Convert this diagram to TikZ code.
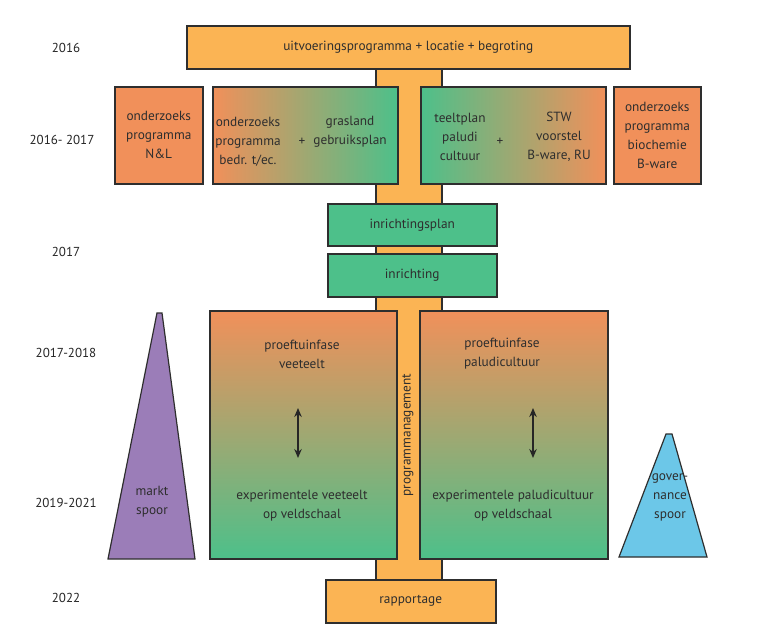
\documentclass[tikz,border=0pt]{standalone}
\usepackage{fontspec}
\setmainfont{PT Sans}
\usetikzlibrary{arrows.meta}
\definecolor{barorange}{HTML}{FBB454}
\definecolor{salmon}{HTML}{F1905A}
\definecolor{mint}{HTML}{4DC08A}
\definecolor{lilac}{HTML}{9B7DB8}
\definecolor{skyblue}{HTML}{6CC7E8}
\definecolor{ink}{HTML}{2E2E2E}
\tikzset{
  box/.style={draw=ink, line width=1.5pt, inner sep=0pt, anchor=north west},
  txt/.style={text=ink, align=center, font=\fontsize{13.3}{19}\selectfont, inner sep=0pt},
  yeartxt/.style={text=black!85, font=\fontsize{13}{15}\selectfont, inner sep=0pt},
  dbl/.style={{Stealth[length=9pt,width=7.5pt]}-{Stealth[length=9pt,width=7.5pt]}, line width=1.2pt, black!85}
}
\begin{document}
\begin{tikzpicture}[x=1pt,y=-1pt]
\useasboundingbox[fill=white] (0,0) rectangle (783,635);
% central bar
\node[box, fill=barorange, minimum width=66pt, minimum height=512pt] (bar) at (375,67) {};
% top
\node[box, fill=barorange, minimum width=443pt, minimum height=43pt] (top) at (186,25) {};
\node[txt] at (top.center) {uitvoeringsprogramma + locatie + begroting};
% row 2
\node[box, fill=salmon, minimum width=88pt, minimum height=97pt] (nl) at (114,86) {};
\node[txt] at (nl.center) {onderzoeks\\programma\\N\&L};
\node[box, left color=salmon, right color=mint, minimum width=185pt, minimum height=97pt] (gl) at (212,86) {};
\node[txt] at (248,142) {onderzoeks\\programma\\bedr. t/ec.};
\node[txt] at (302,142) {+};
\node[txt] at (350,132) {grasland\\gebruiksplan};
\node[box, left color=mint, right color=salmon, minimum width=185pt, minimum height=97pt] (tp) at (420,86) {};
\node[txt] at (460,137) {teeltplan\\paludi\\cultuur};
\node[txt] at (500,142) {+};
\node[txt] at (559,137) {STW\\voorstel\\B-ware, RU};
\node[box, fill=salmon, minimum width=87pt, minimum height=97pt] (bc) at (613,86) {};
\node[txt] at (bc.center) {onderzoeks\\programma\\biochemie\\B-ware};
% inrichting
\node[box, fill=mint, minimum width=169pt, minimum height=42pt] (ip) at (327,203) {};
\node[txt] at (ip.center) {inrichtingsplan};
\node[box, fill=mint, minimum width=169pt, minimum height=43pt] (ir) at (327,253) {};
\node[txt] at (ir.center) {inrichting};
% big boxes
\node[box, top color=salmon, bottom color=mint, minimum width=187pt, minimum height=248pt] (vl) at (209,310) {};
\node[txt] at (302,354) {proeftuinfase\\veeteelt};
\node[txt] at (302,506) {experimentele veeteelt\\op veldschaal};
\node[box, top color=salmon, bottom color=mint, minimum width=188pt, minimum height=248pt] (pc) at (419,310) {};
\node[txt] at (502,354) {proeftuinfase\\paludicultuur};
\node[txt] at (513,506) {experimentele paludicultuur\\op veldschaal};
\coordinate (a1) at (298,408);
\coordinate (a2) at (298,458);
\draw[dbl] (a1) -- (a2);
\coordinate (b1) at (533,408);
\coordinate (b2) at (533,458);
\draw[dbl] (b1) -- (b2);
\node[txt, rotate=90] at (408,435) {programmanagement};
% rapportage
\node[box, fill=barorange, minimum width=170pt, minimum height=43pt] (rp) at (325,579) {};
\node[txt] at (rp.center) {rapportage};
% triangles
\draw[draw=ink, line width=1.2pt, fill=lilac] (108,559) -- (157,313) -- (162,313) -- (195,559) -- cycle;
\node[txt] (markt) at (152,502) {markt\\spoor};
\draw[draw=ink, line width=1.2pt, fill=skyblue] (619,557) -- (666,434) -- (672,434) -- (707,557) -- cycle;
\node[txt] (gov) at (670,497) {gover-\\nance\\spoor};
% years
\node[yeartxt] (y1) at (66,48) {2016};
\node[yeartxt] (y2) at (62,140) {2016- 2017};
\node[yeartxt] (y3) at (66,252) {2017};
\node[yeartxt] (y4) at (66,353) {2017-2018};
\node[yeartxt] (y5) at (66,503) {2019-2021};
\node[yeartxt] (y6) at (66,598) {2022};
\end{tikzpicture}
\end{document}
